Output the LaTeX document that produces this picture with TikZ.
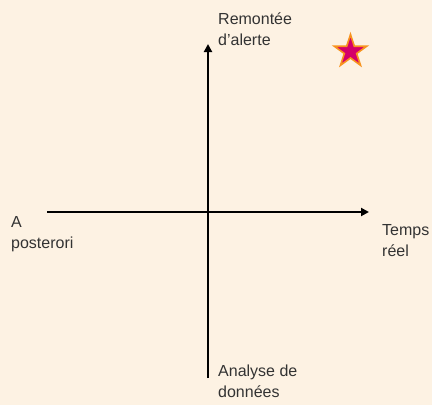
\documentclass[tikz,border=0pt]{standalone}
\usepackage{fontspec}
\setmainfont{Liberation Sans}
\usetikzlibrary{arrows.meta,shapes.geometric}
\definecolor{bg}{HTML}{FDF2E3}
\definecolor{txt}{HTML}{333333}
\definecolor{starfill}{HTML}{D4006A}
\definecolor{starline}{HTML}{F7931E}
\begin{document}
\begin{tikzpicture}[x=1pt,y=-1pt,
  lbl/.style={text=txt,font=\fontsize{16}{21}\selectfont,align=left,inner sep=0pt,anchor=base west},
  axis/.style={line width=2.2pt,-{Triangle[length=8pt,width=8pt]}}]
\fill[bg] (0,0) rectangle (432,405);
\useasboundingbox (0,0) rectangle (432,405);
\coordinate (xL) at (47,212);
\coordinate (xR) at (369,212);
\coordinate (yB) at (208,378);
\coordinate (yT) at (208,44);
\draw[axis] (xL) -- (xR);
\draw[axis] (yB) -- (yT);
\node[lbl] (top) at (218,45) {Remontée\\d'alerte};
\node[lbl] (left) at (11,248) {A\\posterori};
\node[lbl] (right) at (382,256) {Temps\\réel};
\node[lbl] (bottom) at (218,397) {Analyse de\\données};
\node[star,star points=5,star point ratio=2.618,minimum size=34pt,inner sep=0pt,
  fill=starfill,draw=starline,line width=1.6pt] (star) at (350.5,51.5) {};
\end{tikzpicture}
\end{document}
